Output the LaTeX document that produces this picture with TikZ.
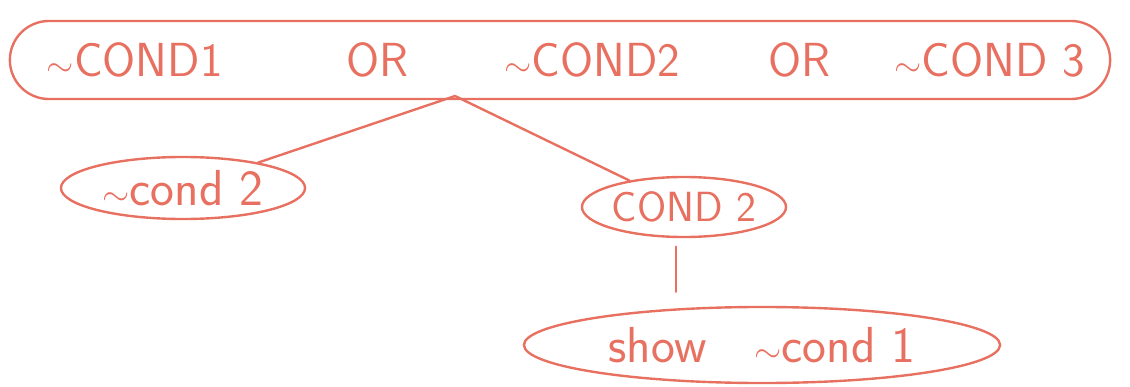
\documentclass[tikz,border=0pt]{standalone}
\usepackage{tikz}
\usetikzlibrary{shapes.geometric, shapes.misc, positioning}
\definecolor{pencil}{RGB}{232,112,96}
\tikzstyle{bubble} = [ellipse, draw=pencil, line width=1.7pt, inner sep=0pt, text=pencil, font=\sffamily\fontsize{36}{40}\selectfont]
\tikzstyle{pill} = [rounded rectangle, draw=pencil, line width=1.7pt, inner sep=0pt, text=pencil, font=\sffamily\fontsize{34}{38}\selectfont]
\tikzstyle{link} = [draw=pencil, line width=1.7pt, line cap=round]

\begin{document}
\begin{tikzpicture}[x=0.025cm, y=-0.025cm]

    \useasboundingbox (0,0) rectangle (1130,387);

    \node (top) [pill, minimum width=27.5cm, minimum height=1.95cm] at (560,60)
        {\hspace{0.3cm}$\sim$COND1\hspace{3.1cm}OR\hspace{2.4cm}$\sim$COND2\hspace{2.2cm}OR\hspace{1.6cm}$\sim$COND 3};
    \node (notb) [bubble, minimum width=6.1cm, minimum height=1.55cm] at (183,188) {$\sim$cond 2};
    \node (b) [bubble, minimum width=5.1cm, minimum height=1.5cm, font=\sffamily\fontsize{30}{34}\selectfont] at (684,207) {COND 2};
    \node (show) [bubble, minimum width=11.9cm, minimum height=1.9cm] at (762,345) {show\hspace{1.2cm}$\sim$cond 1};

    % fork point on the lower edge of the top bubble
    \coordinate (fork) at (455,96);
    \draw [link] (fork) -- (notb);
    \draw [link] (fork) -- (b);
    \draw [link, shorten <=6pt, shorten >=10pt] ([xshift=-0.2cm]b.south) -- ([xshift=-0.2cm]b.south |- show.north);

\end{tikzpicture}
\end{document}
